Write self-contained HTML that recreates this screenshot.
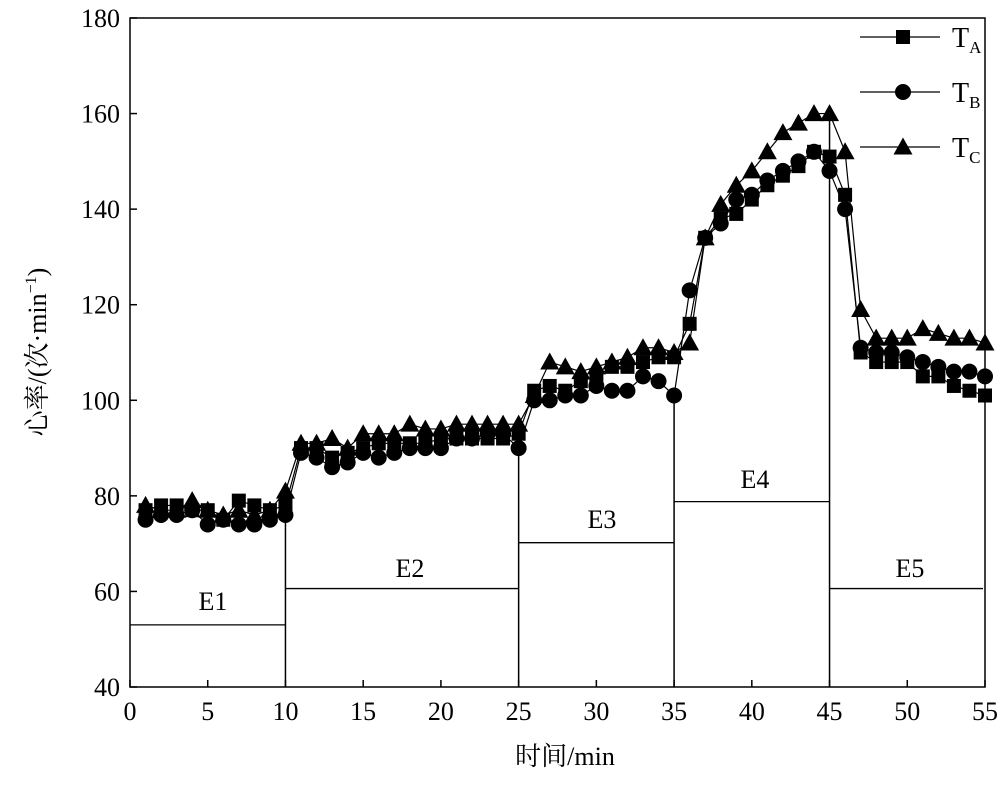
<!DOCTYPE html><html><head><meta charset="utf-8"><style>body{margin:0;background:#fff}svg text{font-family:"Liberation Serif","Noto Serif CJK SC",serif;fill:#000}</style></head><body>
<svg id="s" width="1000" height="783" xmlns="http://www.w3.org/2000/svg"></svg>
<script>
const s=document.getElementById('s');let h='';
const X=v=>130+v*855/55, Y=v=>687-(v-40)*669/140;
h+=`<rect x="130" y="18" width="855" height="669" fill="none" stroke="#000" stroke-width="1.5"/>`;
for(let v=0;v<=55;v+=5){h+=`<line x1="${X(v)}" y1="687" x2="${X(v)}" y2="680" stroke="#000" stroke-width="1.5"/><text x="${X(v)}" y="720" font-size="26" text-anchor="middle">${v}</text>`;}
for(let v=40;v<=180;v+=20){h+=`<line x1="130" y1="${Y(v)}" x2="137" y2="${Y(v)}" stroke="#000" stroke-width="1.5"/><text x="120" y="${Y(v)+9}" font-size="26" text-anchor="end">${v}</text>`;}
h+=`<text x="565" y="765" font-size="26" text-anchor="middle">时间/min</text>`;
h+=`<text transform="translate(46,352) rotate(-90)" font-size="26" text-anchor="middle">心率/(次·min<tspan font-size="16" dy="-10">−1</tspan><tspan dy="10">)</tspan></text>`;
const st=[[0,10,53,79],[10,25,60.6,93],[25,35,70.2,101],[35,45,78.8,160],[45,55,60.6,null]];
st.forEach(([a,b,y,top])=>{h+=`<line x1="${X(a)}" y1="${Y(y)}" x2="${b==55?983:X(b)}" y2="${Y(y)}" stroke="#000" stroke-width="1.3"/>`;if(top)h+=`<line x1="${X(b)}" y1="687" x2="${X(b)}" y2="${Y(top)}" stroke="#000" stroke-width="1.5"/>`;});
[["E1",213,610],["E2",410,577],["E3",602,528],["E4",755,488],["E5",910,577]].forEach(([t,x,y])=>h+=`<text x="${x}" y="${y}" font-size="26" text-anchor="middle">${t}</text>`);
const A=[77,78,78,77,77,75,79,78,77,78,90,90,88,89,90,91,91,91,91,92,92,92,92,92,93,102,103,102,104,105,107,107,108,109,109,116,134,138,139,142,145,147,149,152,151,143,110,108,108,108,105,105,103,102,101];
const B=[75,76,76,77,74,75,74,74,75,76,89,88,86,87,89,88,89,90,90,90,92,92,93,93,90,100,100,101,101,103,102,102,105,104,101,123,134,137,142,143,146,148,150,152,148,140,111,110,110,109,108,107,106,106,105];
const C=[78,77,77,79,77,76,77,76,77,81,91,91,92,90,93,93,93,95,94,94,95,95,95,95,95,101,108,107,106,107,108,109,111,111,110,112,134,141,145,148,152,156,158,160,160,152,119,113,113,113,115,114,113,113,112];
const mk=(t,x,y)=>t==0?`<rect x="${x-7}" y="${y-7}" width="14" height="14"/>`:t==1?`<circle cx="${x}" cy="${y}" r="8"/>`:`<polygon points="${x},${y-9.5} ${x-9.5},${y+7.5} ${x+9.5},${y+7.5}"/>`;
[A,B,C].forEach((d,t)=>{h+=`<polyline fill="none" stroke="#000" stroke-width="1.2" points="${d.map((v,i)=>X(i+1)+','+Y(v)).join(' ')}"/>`;d.forEach((v,i)=>h+=mk(t,X(i+1),Y(v)));});
[["A",37],["B",92],["C",147]].forEach(([l,y],t)=>{h+=`<line x1="860" y1="${y}" x2="940" y2="${y}" stroke="#000" stroke-width="1.2"/>`+mk(t,903,y)+`<text x="952" y="${y+10}" font-size="28">T<tspan font-size="17" dy="6">${l}</tspan></text>`;});
s.innerHTML=h;
</script></body></html>
